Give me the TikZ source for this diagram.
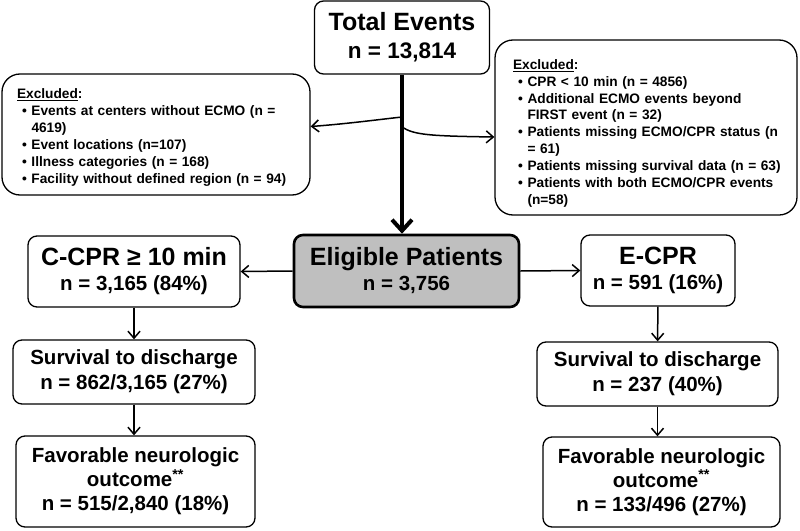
\documentclass[tikz,border=0pt]{standalone}
\usepackage{fontspec}
\setmainfont{Liberation Sans}
\usetikzlibrary{arrows.meta}

\newcommand\bigfont{\fontsize{25}{26}\selectfont\bfseries}
\newcommand\midfont{\fontsize{20.5}{25}\selectfont\bfseries}
\newcommand\smallfont{\fontsize{13.7}{16.9}\selectfont\bfseries}
\newcommand\xitem[1]{\hspace*{5pt}\makebox[9.5pt][l]{\textbullet}#1}
\newcommand\xcont[1]{\hspace*{14.5pt}#1}

\tikzset{
  box/.style={draw, rounded corners=9pt, line width=1.3pt, align=center, inner sep=0pt, font=\midfont},
  exclbox/.style={draw, rounded corners=18pt, line width=1.3pt, align=left, inner ysep=0pt, font=\smallfont},
  arr/.style={line width=1.5pt, -{Straight Barb[length=7pt,width=12pt]}},
}

\begin{document}
\begin{tikzpicture}[x=1pt,y=-1pt]
        \useasboundingbox (0,0) rectangle (800,530);
        \draw (402,37.5) node[box,font=\fontsize{22.5}{28}\selectfont\bfseries,minimum width=175pt,minimum height=73pt](total)
          {{\fontsize{25}{28}\selectfont Total Events}\\ n = 13,814};
        \draw (156,134.5) node[exclbox,inner xsep=15pt,text width=278pt,minimum height=121pt](lexcl){%
          \begin{tabular}{@{}l@{}}
          \underline{Excluded}:\\
          \xitem{Events at centers without ECMO (n =}\\
          \xcont{4619)}\\
          \xitem{Event locations (n=107)}\\
          \xitem{Illness categories (n = 168)}\\
          \xitem{Facility without defined region (n = 94)}
          \end{tabular}\vspace*{-6pt}};
        \draw (646,127.5) node[exclbox,inner xsep=18pt,text width=266pt,minimum height=175pt](rexcl){%
          \begin{tabular}{@{}l@{}}
          \underline{Excluded}:\\
          \xitem{CPR < 10 min (n = 4856)}\\
          \xitem{Additional ECMO events beyond}\\
          \xcont{FIRST event (n = 32)}\\
          \xitem{Patients missing ECMO/CPR status (n}\\
          \xcont{= 61)}\\
          \xitem{Patients missing survival data (n = 63)}\\
          \xitem{Patients with both ECMO/CPR events}\\
          \xcont{(n=58)}
          \end{tabular}\vspace*{-12pt}};
        \draw (406.5,271) node[box,fill=gray!50,line width=2.6pt,minimum width=225pt,minimum height=72pt](eligible)
          {{\bigfont Eligible Patients}\\ n = 3,756};
        \draw (134,271.5) node[box,minimum width=212pt,minimum height=71pt](ccpr)
          {{\bigfont C-CPR ≥ 10 min}\\ n = 3,165 (84\%)};
        \draw (658,270.5) node[box,minimum width=154pt,minimum height=71pt](ecpr)
          {{\bigfont E-CPR}\\ n = 591 (16\%)};
        \draw (134,372) node[box,minimum width=242pt,minimum height=64pt](lsurv)
          {Survival to discharge\\ n = 862/3,165 (27\%)};
        \draw (657.5,374) node[box,minimum width=241pt,minimum height=64pt](rsurv)
          {Survival to discharge\\ n = 237 (40\%)};
        \draw (135.5,481.5) node[box,font=\fontsize{20.5}{24}\selectfont\bfseries,minimum width=239pt,minimum height=91pt](lfav)
          {Favorable neurologic\\ outcome\textsuperscript{**}\\ n = 515/2,840 (18\%)};
        \draw (661.5,482) node[box,font=\fontsize{20.5}{24}\selectfont\bfseries,minimum width=237pt,minimum height=90pt](rfav)
          {Favorable neurologic\\ outcome\textsuperscript{**}\\ n = 133/496 (27\%)};
        \coordinate (split1) at (402,117);
        \coordinate (split2) at (402,127);
        \draw[line width=4pt,-{Straight Barb[length=11pt,width=20pt]}]
          (total) -- (total |- eligible.north);
        \draw[arr] (split1) .. controls (375,120) and (345,124) .. ([yshift=8pt]lexcl.east);
        \draw[arr] (split2) .. controls (414,135) and (430,136) .. ([yshift=-9.5pt]rexcl.west);
        \draw[arr] (eligible.west) -- (ccpr.east);
        \draw[arr] (eligible.east) -- (ecpr.west);
        \draw[arr] (ccpr) -- (lsurv);
        \draw[arr] (lsurv.south) -- (lsurv.south |- lfav.north);
        \draw[arr] (ecpr) -- (rsurv);
        \draw[arr] (rsurv.south) -- (rsurv.south |- rfav.north);
      \end{tikzpicture}
\end{document}
